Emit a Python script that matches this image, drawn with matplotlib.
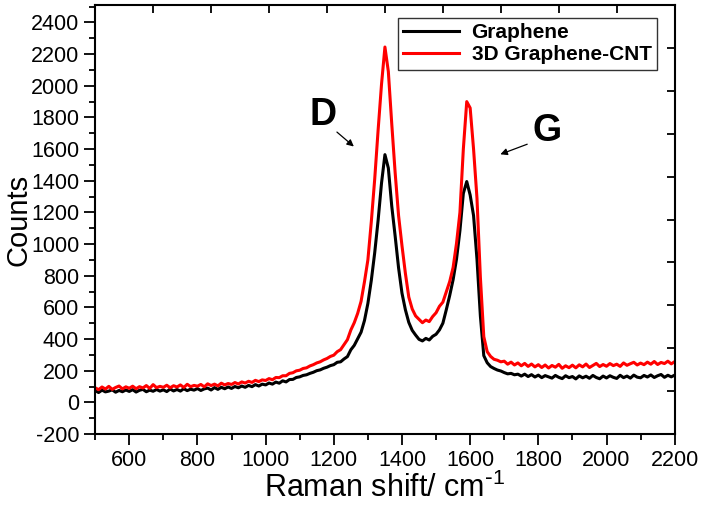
import numpy as np
import matplotlib.pyplot as plt

plt.rcParams['font.family'] = ['Liberation Sans', 'DejaVu Sans']
plt.rcParams['mathtext.default'] = 'regular'
plt.rcParams['axes.unicode_minus'] = False

# Raman shift axis, every 10 cm-1
shift = np.arange(500, 2201, 10)

graphene = [
    74, 62, 77, 66, 71, 79, 64, 75, 67, 78,
    69, 80, 65, 76, 82, 67, 77, 70, 81, 71,
    79, 68, 84, 72, 81, 71, 86, 74, 83, 77,
    87, 75, 85, 90, 78, 93, 82, 95, 86, 97,
    88, 100, 92, 103, 95, 107, 99, 112, 103, 115,
    110, 122, 115, 128, 121, 136, 129, 144, 145, 157,
    161, 170, 174, 183, 190, 200, 205, 215, 222, 232,
    238, 253, 256, 274, 289, 332, 360, 402, 443, 517,
    625, 770, 945, 1150, 1385, 1565, 1480, 1240, 1050, 850,
    690, 585, 505, 455, 425, 398, 388, 404, 394, 417,
    430, 458, 500, 585, 675, 775, 905, 1085, 1320, 1395,
    1310, 1180, 905, 545, 295, 250, 226, 214, 204, 198,
    188, 180, 183, 174, 178, 166, 178, 163, 175, 160,
    172, 156, 169, 161, 153, 170, 158, 150, 168, 156,
    163, 148, 167, 155, 165, 152, 170, 157, 149, 166,
    154, 168, 158, 151, 171, 156, 166, 153, 172, 159,
    155, 170, 160, 173, 157, 168, 176, 158, 171, 161,
    172,
]

graphene_cnt = [
    92, 80, 97, 84, 101, 82, 94, 103, 85, 98,
    89, 102, 86, 99, 91, 106, 88, 112, 93, 101,
    95, 108, 92, 105, 97, 110, 94, 114, 99, 107,
    102, 113, 98, 117, 106, 115, 104, 121, 110, 119,
    113, 125, 116, 129, 122, 133, 126, 139, 131, 142,
    138, 150, 143, 157, 156, 168, 168, 183, 187, 199,
    203, 214, 218, 230, 238, 249, 256, 268, 277, 290,
    298, 320, 333, 364, 396, 457, 503, 562, 638, 762,
    900, 1140, 1410, 1720, 2010, 2245, 2090, 1760, 1450, 1180,
    990, 815, 665, 590, 546, 524, 503, 520, 510, 542,
    566, 607, 633, 697, 763, 852, 1005, 1200, 1600, 1900,
    1860, 1600, 1290, 790, 415, 320, 290, 272, 266, 256,
    260, 241, 254, 236, 249, 231, 246, 227, 242, 224,
    238, 220, 236, 217, 233, 222, 240, 215, 231, 219,
    235, 218, 237, 224, 242, 220, 233, 246, 226, 239,
    228, 245, 232, 241, 227, 249, 234, 244, 253, 236,
    248, 238, 254, 241, 258, 239, 252, 245, 260, 243,
    257,
]

# peak labels: text, text position, arrow tail, arrow head (data coords)
peak_labels = ['D', 'G']
label_pos = [(1168, 1813), (1825, 1712)]
arrow_tail = [(1203, 1719), (1775, 1637)]
arrow_head = [(1265, 1605), (1681, 1561)]

fig = plt.figure(figsize=(7.05, 5.07), dpi=100)
ax = fig.add_axes([0.135, 0.144, 0.822, 0.846])

ax.plot(shift, graphene, color='black', lw=2.2, label='Graphene')
ax.plot(shift, graphene_cnt, color='red', lw=2.2, label='3D Graphene-CNT')

ax.set_xlim(500, 2200)
ax.set_ylim(-200, 2510)
ax.set_xticks(np.arange(600, 2201, 200))
ax.set_xticks(np.arange(500, 2201, 100), minor=True)
ax.set_yticks(np.arange(-200, 2401, 200))
ax.set_yticks(np.arange(-200, 2501, 100), minor=True)
ax.tick_params(which='major', direction='out', length=8, width=1.3, labelsize=15.5)
ax.tick_params(which='minor', direction='out', length=4.5, width=1.3)
for s in ax.spines.values():
    s.set_linewidth(1.5)

ax.set_xlabel(r'Raman shift/ cm$^{\text{-}1}$', fontsize=22, labelpad=1)
ax.set_ylabel('Counts', fontsize=21, labelpad=-1)

for txt, p, t, h in zip(peak_labels, label_pos, arrow_tail, arrow_head):
    ax.text(p[0], p[1], txt, fontsize=27, fontweight='bold', ha='center', va='center')
    ax.annotate('', xy=h, xytext=t,
                arrowprops=dict(arrowstyle='-|>', color='black', lw=0.9,
                                mutation_scale=10))

leg = ax.legend(loc='upper right', bbox_to_anchor=(0.987, 0.994),
                prop={'weight': 'bold', 'size': 15}, handlelength=2.7,
                fancybox=False, framealpha=1, borderpad=0.25, labelspacing=0.15,
                handletextpad=0.6)
leg.get_frame().set_edgecolor('#333333')
leg.get_frame().set_linewidth(1.0)

# inner ticks on top and right
ax2 = fig.add_axes(ax.get_position(), frameon=False)
ax2.set_xlim(0, 10)
ax2.set_ylim(0, 10)
ax2.set_xticks(np.arange(1, 10))
ax2.set_yticks(np.arange(1, 10))
ax2.tick_params(direction='in', length=6, width=1.3, top=True, right=True,
                bottom=False, left=False, labeltop=False, labelright=False,
                labelbottom=False, labelleft=False)
ax2.patch.set_alpha(0)

fig.savefig('out.png', dpi=100)
